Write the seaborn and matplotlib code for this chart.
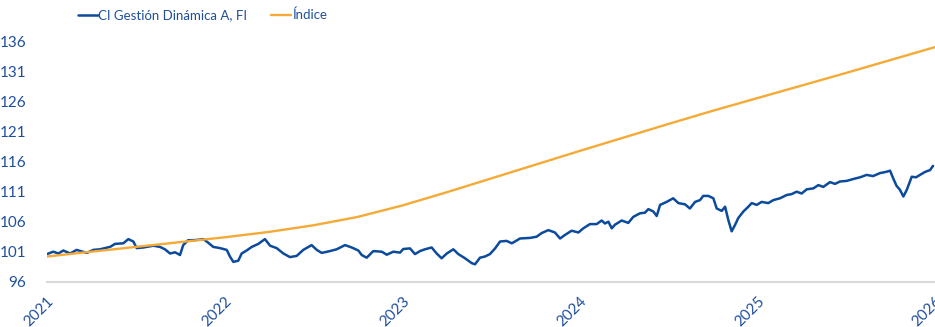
import matplotlib
matplotlib.use("Agg")
import matplotlib.pyplot as plt
import matplotlib.transforms as mtransforms
import seaborn as sns
import pandas as pd

sns.set_theme(style="white")
plt.rcParams["font.family"] = ["Lato", "DejaVu Sans"]

# Fund NAV (base 100), sampled in decimal years
fund_t = [
    2021.000, 2021.035, 2021.064, 2021.092, 2021.130, 2021.167, 2021.224, 2021.261,
    2021.298, 2021.355, 2021.383, 2021.430, 2021.458, 2021.486, 2021.505, 2021.542,
    2021.599, 2021.636, 2021.664, 2021.693, 2021.721, 2021.749, 2021.767, 2021.794,
    2021.843, 2021.880, 2021.908, 2021.936, 2021.974, 2022.012, 2022.030, 2022.049,
    2022.077, 2022.096, 2022.124, 2022.153, 2022.190, 2022.227, 2022.256, 2022.293,
    2022.331, 2022.368, 2022.406, 2022.443, 2022.490, 2022.519, 2022.547, 2022.593,
    2022.631, 2022.678, 2022.716, 2022.753, 2022.772, 2022.800, 2022.837, 2022.885,
    2022.913, 2022.950, 2022.988, 2023.006, 2023.044, 2023.072, 2023.100, 2023.128,
    2023.166, 2023.194, 2023.222, 2023.251, 2023.288, 2023.316, 2023.354, 2023.391,
    2023.410, 2023.438, 2023.466, 2023.494, 2023.523, 2023.551, 2023.588, 2023.617,
    2023.635, 2023.663, 2023.720, 2023.757, 2023.785, 2023.823, 2023.860, 2023.889,
    2023.917, 2023.954, 2023.992, 2024.020, 2024.057, 2024.095, 2024.123, 2024.142,
    2024.161, 2024.180, 2024.198, 2024.236, 2024.273, 2024.301, 2024.339, 2024.367,
    2024.386, 2024.414, 2024.433, 2024.452, 2024.489, 2024.526, 2024.555, 2024.592,
    2024.620, 2024.649, 2024.677, 2024.695, 2024.724, 2024.752, 2024.771, 2024.799,
    2024.818, 2024.836, 2024.855, 2024.874, 2024.892, 2024.921, 2024.949, 2024.968,
    2024.996, 2025.024, 2025.061, 2025.090, 2025.127, 2025.165, 2025.193, 2025.221,
    2025.249, 2025.278, 2025.315, 2025.343, 2025.371, 2025.409, 2025.437, 2025.465,
    2025.503, 2025.538, 2025.578, 2025.615, 2025.651, 2025.690, 2025.724, 2025.747,
    2025.765, 2025.783, 2025.803, 2025.822, 2025.841, 2025.869, 2025.893, 2025.916,
    2025.944, 2025.972, 2025.989,
]
fund_v = [
    100.6, 101.0, 100.7, 101.2, 100.7, 101.3, 100.8, 101.3,
    101.4, 101.8, 102.3, 102.4, 103.1, 102.7, 101.6, 101.7,
    102.0, 101.8, 101.4, 100.7, 100.9, 100.45, 102.1, 102.9,
    102.95, 103.1, 102.5, 101.8, 101.6, 101.3, 100.2, 99.3,
    99.5, 100.7, 101.2, 101.8, 102.3, 103.1, 102.0, 101.6,
    100.7, 100.1, 100.3, 101.3, 102.1, 101.3, 100.8, 101.1,
    101.4, 102.1, 101.7, 101.2, 100.45, 100.0, 101.1, 101.0,
    100.5, 101.0, 100.85, 101.45, 101.55, 100.6, 101.1, 101.4,
    101.7, 100.7, 99.9, 100.7, 101.4, 100.6, 99.9, 99.1,
    98.9, 100.0, 100.2, 100.6, 101.55, 102.7, 102.8, 102.4,
    102.7, 103.2, 103.3, 103.5, 104.1, 104.6, 104.2, 103.2,
    103.8, 104.5, 104.2, 104.9, 105.6, 105.6, 106.2, 105.7,
    106.0, 104.9, 105.5, 106.2, 105.8, 106.8, 107.4, 107.5,
    108.1, 107.7, 106.95, 108.8, 109.3, 109.9, 109.1, 108.9,
    108.2, 109.3, 109.6, 110.3, 110.3, 109.9, 108.2, 107.8,
    108.5, 106.3, 104.4, 105.45, 106.6, 107.7, 108.5, 109.1,
    108.8, 109.3, 109.1, 109.6, 109.9, 110.45, 110.6, 111.0,
    110.7, 111.4, 111.55, 112.1, 111.8, 112.6, 112.3, 112.7,
    112.8, 113.1, 113.4, 113.8, 113.6, 114.1, 114.3, 114.5,
    113.2, 112.0, 111.3, 110.2, 111.3, 113.5, 113.4, 113.8,
    114.3, 114.6, 115.3,
]

# Reference index (base 100), quarterly
index_t = [
    2021.00, 2021.25, 2021.50, 2021.75, 2022.00, 2022.25, 2022.50, 2022.75,
    2023.00, 2023.25, 2023.50, 2023.75, 2024.00, 2024.25, 2024.50, 2024.75,
    2025.00, 2025.25, 2025.50, 2025.75, 2026.00,
]
index_v = [
    100.2, 101.0, 101.8, 102.6, 103.4, 104.3, 105.4, 106.8,
    108.7, 110.9, 113.2, 115.5, 117.8, 120.05, 122.3, 124.5,
    126.6, 128.7, 130.8, 132.95, 135.1,
]

years = [2021, 2022, 2023, 2024, 2025, 2026]
y_ticks = [96, 101, 106, 111, 116, 121, 126, 131, 136]

fund_name = "CI Gestión Dinámica A, FI"
index_name = "Índice"

blue = "#0c4a9c"
orange = "#f5aa36"
label_blue = "#1f4f9c"

fund_df = pd.DataFrame({"t": fund_t, "v": fund_v})
index_df = pd.DataFrame({"t": index_t, "v": index_v})

fig = plt.figure(figsize=(9.35, 3.27), dpi=100)
ax = fig.add_axes([47 / 935, 1 - 281.7 / 327, 888 / 935, 240 / 327])

sns.lineplot(data=fund_df, x="t", y="v", ax=ax, color=blue, lw=1.8,
             label=fund_name, sort=False)
sns.lineplot(data=index_df, x="t", y="v", ax=ax, color=orange, lw=1.7,
             label=index_name, sort=False)

ax.set_xlim(2021, 2026)
ax.set_ylim(96, 136)
ax.set_xticks(years)
ax.set_xticklabels([str(y) for y in years], rotation=45, ha="right", va="top")
ax.set_yticks(y_ticks)
ax.set_yticklabels([str(v) for v in y_ticks])
ax.set_xlabel("")
ax.set_ylabel("")
ax.tick_params(axis="both", length=0, labelsize=11, colors=label_blue)
ax.tick_params(axis="y", pad=15)
ax.tick_params(axis="x", pad=9)

# nudge the rotated year labels so their upper end sits just right of the tick
shift = mtransforms.ScaledTranslation(0.10, 0, fig.dpi_scale_trans)
for lbl in ax.get_xticklabels():
    lbl.set_transform(lbl.get_transform() + shift)

for side in ["left", "right", "top"]:
    ax.spines[side].set_visible(False)
ax.spines["bottom"].set_color("#d9d9d9")
ax.spines["bottom"].set_linewidth(1.5)
ax.grid(False)
ax.set_zorder(1)

handles, labels = ax.get_legend_handles_labels()
ax.get_legend().remove()
leg = fig.legend(handles, labels, loc="center left",
                 bbox_to_anchor=(78 / 935, 1 - 15 / 327),
                 bbox_transform=fig.transFigure, ncol=2, frameon=False,
                 fontsize=9.5, handlelength=1.5, handletextpad=0.05,
                 columnspacing=1.8, borderpad=0, borderaxespad=0)
for txt in leg.get_texts():
    txt.set_color(label_blue)

fig.savefig("out.png", dpi=100)
